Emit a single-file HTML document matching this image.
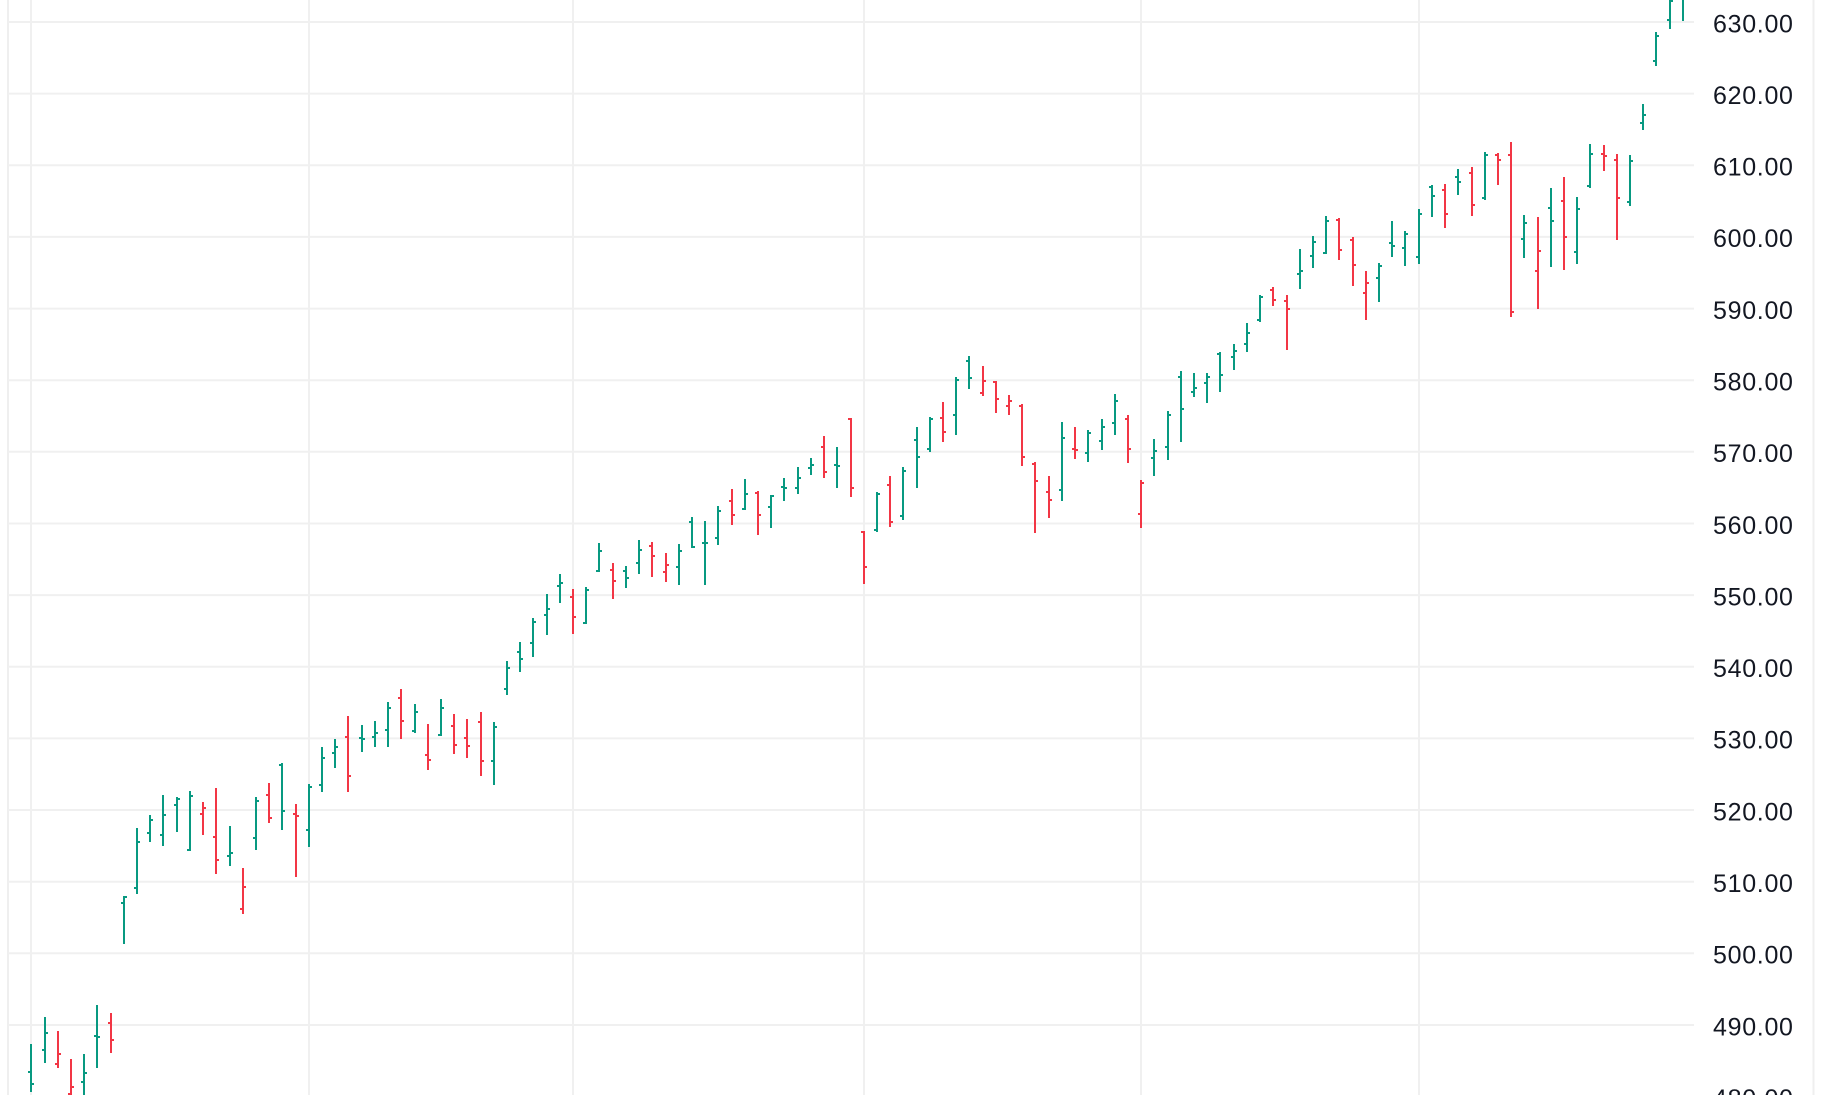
<!DOCTYPE html>
<html>
<head>
<meta charset="utf-8">
<style>
html,body{margin:0;padding:0;background:#ffffff;}
body{width:1834px;height:1095px;overflow:hidden;}
svg{display:block;}
</style>
</head>
<body>
<svg width="1834" height="1095" viewBox="0 0 1834 1095" xmlns="http://www.w3.org/2000/svg">
<rect x="0" y="0" width="1834" height="1095" fill="#ffffff"/>
<line x1="8" y1="0" x2="8" y2="1095" stroke="#efefef" stroke-width="2"/>
<line x1="1813.5" y1="0" x2="1813.5" y2="1095" stroke="#efefef" stroke-width="2"/>
<g stroke="#f0f0f0" stroke-width="2">
<line x1="31" y1="0" x2="31" y2="1095"/>
<line x1="309" y1="0" x2="309" y2="1095"/>
<line x1="573" y1="0" x2="573" y2="1095"/>
<line x1="864" y1="0" x2="864" y2="1095"/>
<line x1="1141" y1="0" x2="1141" y2="1095"/>
<line x1="1419" y1="0" x2="1419" y2="1095"/>
</g>
<g stroke="#f0f0f0" stroke-width="2">
<line x1="8" y1="22" x2="1694" y2="22"/>
<line x1="8" y1="93.6" x2="1694" y2="93.6"/>
<line x1="8" y1="165.3" x2="1694" y2="165.3"/>
<line x1="8" y1="236.9" x2="1694" y2="236.9"/>
<line x1="8" y1="308.6" x2="1694" y2="308.6"/>
<line x1="8" y1="380.2" x2="1694" y2="380.2"/>
<line x1="8" y1="451.8" x2="1694" y2="451.8"/>
<line x1="8" y1="523.5" x2="1694" y2="523.5"/>
<line x1="8" y1="595.1" x2="1694" y2="595.1"/>
<line x1="8" y1="666.8" x2="1694" y2="666.8"/>
<line x1="8" y1="738.4" x2="1694" y2="738.4"/>
<line x1="8" y1="810" x2="1694" y2="810"/>
<line x1="8" y1="881.7" x2="1694" y2="881.7"/>
<line x1="8" y1="953.3" x2="1694" y2="953.3"/>
<line x1="8" y1="1025" x2="1694" y2="1025"/>
</g>
<path fill="none" stroke="#089981" stroke-width="2" d="M31 1044V1092M28 1072H31M31 1084H34 M45 1017V1063M42 1050H45M45 1033H48 M84 1054V1100M81 1082H84M84 1073H87 M97 1005V1068M94 1036H97M97 1037H100 M124 896V944M121 903H124M124 897H127 M137 828V894M134 888H137M137 842H140 M150 815V842M147 833H150M150 820H153 M163 795V846M160 835H163M163 815H166 M177 797V832M174 805H177M177 799H180 M190 791V851M187 850H190M190 796H193 M230 826V866M227 856H230M230 853H233 M256 797V850M253 838H256M256 801H259 M282 763V830M279 765H282M282 811H285 M309 784V847M306 830H309M309 787H312 M322 747V792M319 785H322M322 758H325 M335 739V768M332 753H335M335 747H338 M362 725V752M359 738H362M362 739H365 M375 721V747M372 737H375M375 733H378 M388 702V747M385 730H388M388 708H391 M415 704V733M412 731H415M415 712H418 M441 699V736M438 735H441M441 708H444 M494 722V785M491 761H494M494 727H497 M507 661V695M504 689H507M507 668H510 M520 642V672M517 652H520M520 659H523 M533 618V657M530 643H533M533 622H536 M547 594V635M544 615H547M547 609H550 M560 574V603M557 586H560M560 583H563 M586 587V624M583 623H586M586 590H589 M599 543V572M596 571H599M599 551H602 M626 566V588M623 571H626M626 578H629 M639 540V574M636 563H639M639 550H642 M679 544V585M676 567H679M679 551H682 M692 517V548M689 522H692M692 547H695 M705 521V585M702 543H705M705 543H708 M718 506V545M715 538H718M718 511H721 M745 479V510M742 509H745M745 494H748 M771 495V528M768 507H771M771 496H774 M784 478V501M781 487H784M784 488H787 M798 467V494M795 488H798M798 478H801 M811 458V475M808 468H811M811 465H814 M837 447V488M834 465H837M837 466H840 M877 492V532M874 530H877M877 494H880 M903 467V520M900 516H903M903 471H906 M917 427V488M914 440H917M917 457H920 M930 417V452M927 449H930M930 419H933 M956 377V435M953 415H956M956 380H959 M969 356V389M966 361H969M969 378H972 M1062 422V501M1059 490H1062M1062 438H1065 M1088 430V462M1085 453H1088M1088 433H1091 M1102 419V450M1099 441H1102M1102 427H1105 M1115 394V435M1112 423H1115M1115 401H1118 M1154 439V476M1151 458H1154M1154 451H1157 M1168 411V460M1165 447H1168M1168 415H1171 M1181 371V442M1178 377H1181M1181 409H1184 M1194 373V397M1191 392H1194M1194 388H1197 M1207 373V403M1204 383H1207M1207 377H1210 M1220 352V392M1217 354H1220M1220 375H1223 M1234 344V370M1231 357H1234M1234 351H1237 M1247 323V352M1244 344H1247M1247 333H1250 M1260 295V322M1257 320H1260M1260 297H1263 M1300 249V289M1297 274H1300M1300 271H1303 M1313 236V268M1310 256H1313M1313 242H1316 M1326 216V254M1323 253H1326M1326 221H1329 M1379 263V302M1376 278H1379M1379 266H1382 M1392 221V257M1389 243H1392M1392 246H1395 M1405 231V266M1402 248H1405M1405 234H1408 M1419 209V264M1416 257H1419M1419 214H1422 M1432 185V217M1429 187H1432M1432 196H1435 M1458 169V195M1455 177H1458M1458 182H1461 M1485 152V200M1482 198H1485M1485 155H1488 M1524 215V258M1521 239H1524M1524 223H1527 M1551 188V267M1548 208H1551M1551 221H1554 M1577 197V264M1574 252H1577M1577 209H1580 M1590 144V188M1587 186H1590M1590 154H1593 M1630 155V206M1627 202H1630M1630 161H1633 M1643 104V130M1640 123H1643M1643 115H1646 M1656 32V66M1653 61H1656M1656 36H1659 M1670 -5V29M1667 20H1670M1670 1H1673 M1683 -5V21"/>
<path fill="none" stroke="#F23645" stroke-width="2" d="M58 1031V1068M55 1064H58M58 1054H61 M71 1059V1100M68 1094H71M71 1087H74 M111 1013V1053M108 1023H111M111 1040H114 M203 802V835M200 814H203M203 808H206 M216 788V874M213 837H216M216 860H219 M243 868V914M240 909H243M243 887H246 M269 783V823M266 795H269M269 818H272 M296 804V877M293 814H296M296 816H299 M348 716V792M345 737H348M348 776H351 M401 689V739M398 698H401M401 721H404 M428 724V770M425 755H428M428 760H431 M454 714V754M451 726H454M454 745H457 M467 719V758M464 738H467M467 746H470 M481 712V776M478 722H481M481 761H484 M573 589V634M570 597H573M573 617H576 M613 563V599M610 570H613M613 581H616 M652 542V577M649 546H652M652 556H655 M666 553V582M663 572H666M666 565H669 M732 489V525M729 501H732M732 515H735 M758 491V535M755 493H758M758 515H761 M824 436V478M821 447H824M824 472H827 M851 418V497M848 419H851M851 488H854 M864 531V584M861 532H864M864 567H867 M890 476V527M887 485H890M890 522H893 M943 402V442M940 418H943M943 432H946 M983 366V396M980 393H983M983 381H986 M996 381V413M993 382H996M996 399H999 M1009 395V415M1006 406H1009M1009 401H1012 M1022 404V466M1019 406H1022M1022 457H1025 M1035 462V533M1032 464H1035M1035 481H1038 M1049 476V518M1046 492H1049M1049 500H1052 M1075 427V459M1072 449H1075M1075 450H1078 M1128 415V463M1125 419H1128M1128 449H1131 M1141 480V528M1138 514H1141M1141 483H1144 M1273 287V306M1270 290H1273M1273 300H1276 M1287 295V350M1284 301H1287M1287 309H1290 M1339 218V260M1336 220H1339M1339 250H1342 M1353 237V286M1350 240H1353M1353 265H1356 M1366 271V320M1363 293H1366M1366 283H1369 M1445 184V228M1442 190H1445M1445 214H1448 M1472 167V216M1469 173H1472M1472 205H1475 M1498 153V185M1495 155H1498M1498 160H1501 M1511 142V317M1508 155H1511M1511 312H1514 M1538 217V309M1535 271H1538M1538 251H1541 M1564 177V270M1561 201H1564M1564 237H1567 M1604 145V171M1601 154H1604M1604 156H1607 M1617 154V240M1614 160H1617M1617 198H1620"/>
<g font-family="'Liberation Sans', Arial, sans-serif" font-size="25" fill="#131722" letter-spacing="0.7">
<text x="1713" y="32.3">630.00</text>
<text x="1713" y="103.9">620.00</text>
<text x="1713" y="175.6">610.00</text>
<text x="1713" y="247.2">600.00</text>
<text x="1713" y="318.9">590.00</text>
<text x="1713" y="390.5">580.00</text>
<text x="1713" y="462.1">570.00</text>
<text x="1713" y="533.8">560.00</text>
<text x="1713" y="605.4">550.00</text>
<text x="1713" y="677.1">540.00</text>
<text x="1713" y="748.7">530.00</text>
<text x="1713" y="820.3">520.00</text>
<text x="1713" y="892">510.00</text>
<text x="1713" y="963.6">500.00</text>
<text x="1713" y="1035.3">490.00</text>
<text x="1713" y="1106.9">480.00</text>
</g>
</svg>
</body>
</html>
